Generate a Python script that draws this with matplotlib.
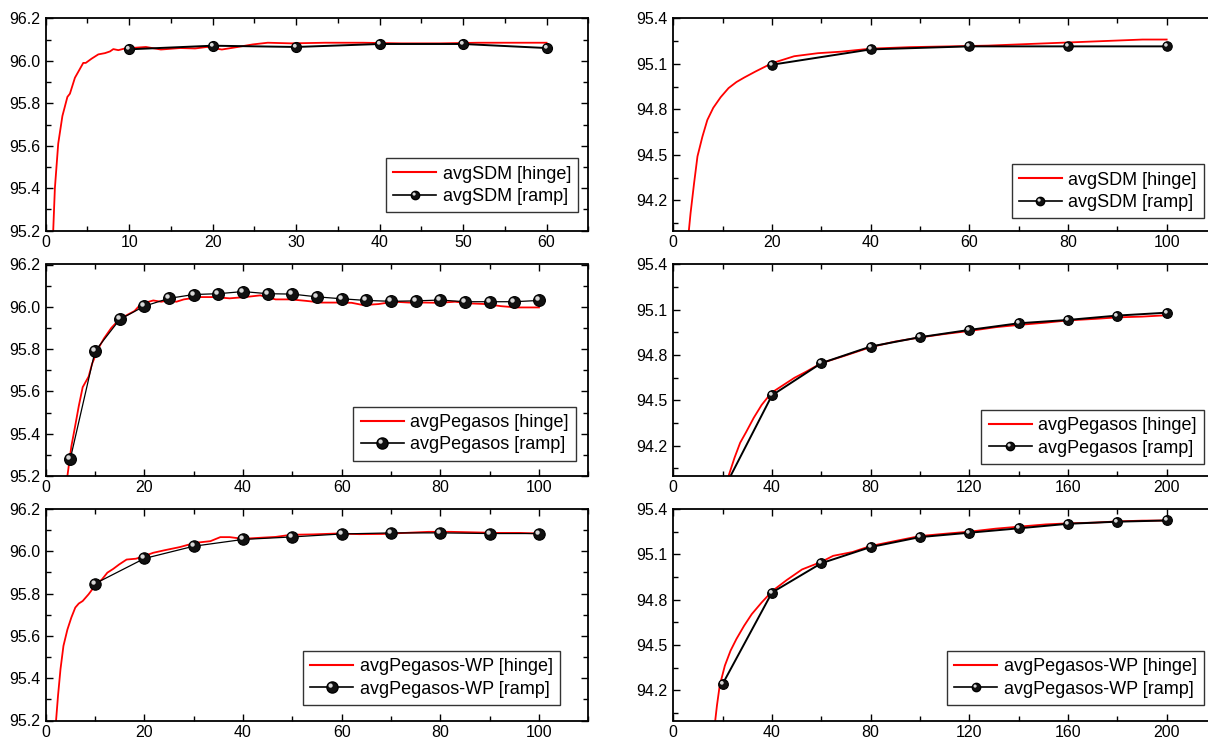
import matplotlib
matplotlib.use("Agg")
import matplotlib.pyplot as plt
from matplotlib.ticker import MultipleLocator, FormatStrFormatter
from matplotlib.markers import MarkerStyle
from matplotlib.transforms import Affine2D
from matplotlib.legend_handler import HandlerTuple

plt.rcParams['font.family'] = ['Liberation Sans', 'DejaVu Sans']

# ---------------- data ----------------
# Panel 1: avgSDM (left)
sdm1_hinge_x = [0.8, 0.9, 1.1, 1.5, 2.0, 2.6, 2.9, 3.5, 4.5, 4.8, 5.5, 6.3, 7.1, 7.7, 8.1, 8.7,
                9.7, 10.2, 12, 13.8, 16.1, 17.9, 19.3, 21.1, 23, 24.8, 26.6, 29.4, 33.5, 38,
                42.6, 47.2, 51.8, 56.3, 60]
sdm1_hinge_y = [95.0, 95.2, 95.4, 95.61, 95.74, 95.83, 95.845, 95.92, 95.99, 95.99, 96.01, 96.03,
                96.036, 96.044, 96.055, 96.05, 96.06, 96.06, 96.065, 96.053, 96.06, 96.058, 96.065,
                96.053, 96.065, 96.077, 96.085, 96.082, 96.085, 96.085, 96.082, 96.082, 96.085,
                96.085, 96.085]
sdm1_ramp_x = [10, 20, 30, 40, 50, 60]
sdm1_ramp_y = [96.054, 96.071, 96.065, 96.079, 96.079, 96.06]

# Panel 2: avgSDM (right)
sdm2_hinge_x = [3.0, 3.5, 4.2, 4.9, 5.9, 6.9, 8.1, 9.6, 11.2, 12.8, 14.4, 16.7, 20, 24.5, 29.3,
                34, 40, 48, 56, 63.8, 71.6, 79.5, 87.3, 95.1, 100]
sdm2_hinge_y = [93.95, 94.116, 94.31, 94.49, 94.62, 94.73, 94.81, 94.88, 94.94, 94.98, 95.01,
                95.05, 95.104, 95.15, 95.17, 95.18, 95.2, 95.21, 95.215, 95.22, 95.23, 95.24,
                95.25, 95.26, 95.26]
sdm2_ramp_x = [20, 40, 60, 80, 100]
sdm2_ramp_y = [95.094, 95.195, 95.215, 95.215, 95.215]

# Panel 3: avgPegasos (left)
peg1_hinge_x = [4.2, 4.4, 5.2, 6.0, 6.7, 7.5, 8.7, 9.4, 10.6, 11.8, 13.3, 14.9, 16.4, 18, 19.1,
                20.3, 21.8, 23.4, 24.9, 26.5, 28, 31.1, 34.2, 37.3, 40.4, 43.5, 46.6, 49.7,
                52.8, 55.9, 59, 62, 64.4, 67.5, 70.6, 73.7, 76.8, 79.9, 83, 86, 89.2, 92.3,
                95.4, 100]
peg1_hinge_y = [95.15, 95.2, 95.34, 95.44, 95.53, 95.62, 95.67, 95.73, 95.8, 95.85, 95.9, 95.94,
                95.96, 95.98, 96.008, 96.02, 96.03, 96.024, 96.03, 96.024, 96.035, 96.046,
                96.046, 96.04, 96.046, 96.054, 96.035, 96.035, 96.028, 96.02, 96.02, 96.019,
                96.008, 96.013, 96.024, 96.02, 96.02, 96.019, 96.024, 96.016, 96.013, 96.003,
                95.997, 95.997]
peg1_ramp_x = [5, 10, 15, 20, 25, 30, 35, 40, 45, 50, 55, 60, 65, 70, 75, 80, 85, 90, 95, 100]
peg1_ramp_y = [95.282, 95.79, 95.94, 96.003, 96.04, 96.058, 96.062, 96.072, 96.062, 96.06,
               96.047, 96.038, 96.03, 96.026, 96.028, 96.032, 96.024, 96.024, 96.024, 96.03]

# Panel 4: avgPegasos (right)
peg2_hinge_x = [21.5, 22.4, 24.8, 27.1, 29.5, 32.6, 35.8, 39.7, 44.4, 49.1, 53.8, 60, 69.5, 80,
                89.9, 100, 110, 120, 130.7, 140, 151, 160, 171, 180, 190, 200]
peg2_hinge_y = [93.98, 94.0, 94.12, 94.22, 94.29, 94.385, 94.47, 94.55, 94.6, 94.65, 94.69,
                94.747, 94.796, 94.853, 94.89, 94.917, 94.94, 94.96, 94.985, 95.0, 95.015,
                95.03, 95.04, 95.05, 95.055, 95.064]
peg2_ramp_x = [20, 40, 60, 80, 100, 120, 140, 160, 180, 200]
peg2_ramp_y = [93.898, 94.534, 94.747, 94.857, 94.919, 94.967, 95.011, 95.033, 95.062, 95.081]

# Panel 5: avgPegasos-WP (left)
wp1_hinge_x = [1.9, 2.1, 2.5, 3.0, 3.6, 4.4, 5.2, 6.0, 6.7, 7.5, 8.7, 10.2, 11.4, 12.5, 13.7,
               14.9, 16.4, 18.3, 19.9, 21.8, 24.1, 27.2, 30.3, 33.4, 35.4, 37.3, 40, 43.5, 46.6,
               49.7, 54.3, 59, 63.6, 68.3, 72.9, 77.6, 82.2, 86, 91.5, 96.1, 100]
wp1_hinge_y = [95.1, 95.2, 95.318, 95.443, 95.553, 95.63, 95.687, 95.734, 95.753, 95.765, 95.797,
               95.844, 95.867, 95.899, 95.917, 95.938, 95.961, 95.965, 95.977, 95.993, 96.005,
               96.02, 96.04, 96.048, 96.067, 96.067, 96.059, 96.064, 96.068, 96.078, 96.08,
               96.084, 96.081, 96.082, 96.087, 96.092, 96.092, 96.09, 96.087, 96.087, 96.084]
wp1_ramp_x = [10, 20, 30, 40, 50, 60, 70, 80, 90, 100]
wp1_ramp_y = [95.847, 95.966, 96.024, 96.056, 96.068, 96.082, 96.087, 96.087, 96.084, 96.084]

# Panel 6: avgPegasos-WP (right)
wp2_hinge_x = [16.5, 17, 17.7, 18.8, 20.9, 23.2, 25.6, 28.7, 31.8, 35.8, 40.2, 46, 52.2, 60,
               64.8, 72.6, 80, 89.9, 100, 110, 120, 130.7, 140, 151, 160, 171, 180, 190, 200]
wp2_hinge_y = [93.95, 94.0, 94.1, 94.23, 94.363, 94.462, 94.54, 94.627, 94.704, 94.781, 94.858,
               94.93, 95.0, 95.05, 95.09, 95.115, 95.155, 95.188, 95.221, 95.236, 95.25, 95.27,
               95.283, 95.298, 95.305, 95.31, 95.318, 95.323, 95.324]
wp2_ramp_x = [20, 40, 60, 80, 100, 120, 140, 160, 180, 200]
wp2_ramp_y = [94.242, 94.847, 95.041, 95.148, 95.214, 95.243, 95.272, 95.302, 95.316, 95.324]

labels = ["avgSDM", "avgSDM", "avgPegasos", "avgPegasos", "avgPegasos-WP", "avgPegasos-WP"]

# ---------------- layout ----------------
W, H = 1208, 740
fig = plt.figure(figsize=(W / 100, H / 100), dpi=100)

cols = [(45.7, 588.3), (673.3, 1216.0)]
rows = [(18.3, 230.7), (264.5, 476.0), (509.0, 720.5)]

panels = [
    dict(hx=sdm1_hinge_x, hy=sdm1_hinge_y, rx=sdm1_ramp_x, ry=sdm1_ramp_y, lab=labels[0],
         xlim=(0, 65), xmaj=10, xmin=5, ylim=(95.2, 96.2), ymaj=0.2, ymin=0.1,
         ms=7.2, blw=1.4, leg=(578.3, 212.3), lms=6),
    dict(hx=sdm2_hinge_x, hy=sdm2_hinge_y, rx=sdm2_ramp_x, ry=sdm2_ramp_y, lab=labels[1],
         xlim=(0, 110), xmaj=20, xmin=10, ylim=(94.0, 95.4), ymaj=0.3, ymin=0.15,
         ms=6.8, blw=1.4, leg=(1204, 218.3), lms=6),
    dict(hx=peg1_hinge_x, hy=peg1_hinge_y, rx=peg1_ramp_x, ry=peg1_ramp_y, lab=labels[2],
         xlim=(0, 110), xmaj=20, xmin=10, ylim=(95.2, 96.2), ymaj=0.2, ymin=0.1,
         ms=8.5, blw=0.9, leg=(576, 460.7), lms=8),
    dict(hx=peg2_hinge_x, hy=peg2_hinge_y, rx=peg2_ramp_x, ry=peg2_ramp_y, lab=labels[3],
         xlim=(0, 220), xmaj=40, xmin=20, ylim=(94.0, 95.4), ymaj=0.3, ymin=0.15,
         ms=7, blw=1.4, leg=(1204, 464), lms=6),
    dict(hx=wp1_hinge_x, hy=wp1_hinge_y, rx=wp1_ramp_x, ry=wp1_ramp_y, lab=labels[4],
         xlim=(0, 110), xmaj=20, xmin=10, ylim=(95.2, 96.2), ymaj=0.2, ymin=0.1,
         ms=8.2, blw=0.9, leg=(560, 705), lms=8),
    dict(hx=wp2_hinge_x, hy=wp2_hinge_y, rx=wp2_ramp_x, ry=wp2_ramp_y, lab=labels[5],
         xlim=(0, 220), xmaj=40, xmin=20, ylim=(94.0, 95.4), ymaj=0.3, ymin=0.15,
         ms=7, blw=1.4, leg=(1204, 705), lms=6),
]

hl_marker = MarkerStyle('o', transform=Affine2D().scale(0.38).translate(-0.17, 0.17))

for i, p in enumerate(panels):
    r, c = divmod(i, 2)
    x0, x1 = cols[c]
    y0, y1 = rows[r]
    ax = fig.add_axes([x0 / W, 1 - y1 / H, (x1 - x0) / W, (y1 - y0) / H])

    ax.plot(p['hx'], p['hy'], color='#ff0000', lw=1.3, zorder=2)
    ax.plot(p['rx'], p['ry'], color='black', lw=p['blw'], marker='o',
            ms=p['ms'], mfc='#111111', mec='black', mew=0.8, zorder=3)
    ax.plot(p['rx'], p['ry'], ls='none', marker=hl_marker, ms=p['ms'],
            mfc='#d8d8d8', mec='none', zorder=4)

    ax.set_xlim(*p['xlim'])
    ax.set_ylim(*p['ylim'])
    ax.xaxis.set_major_locator(MultipleLocator(p['xmaj']))
    ax.xaxis.set_minor_locator(MultipleLocator(p['xmin']))
    ax.yaxis.set_major_locator(MultipleLocator(p['ymaj']))
    ax.yaxis.set_minor_locator(MultipleLocator(p['ymin']))
    ax.yaxis.set_major_formatter(FormatStrFormatter('%.1f'))
    ax.tick_params(which='both', direction='in', top=True, right=True, width=1.0,
                   labelsize=11.5, colors='black')
    ax.tick_params(axis='x', pad=3)
    ax.tick_params(axis='y', pad=4)
    ax.tick_params(which='major', length=5)
    ax.tick_params(which='minor', length=3.5)
    for s in ax.spines.values():
        s.set_linewidth(1.3)

    # legend proxies (smaller markers like the reference)
    lb, = ax.plot([], [], color='black', lw=1.2, marker='o', ms=p['lms'], mfc='#111111', mec='black')
    lh, = ax.plot([], [], ls='none', marker=hl_marker, ms=p['lms'], mfc='#d8d8d8', mec='none')
    lr, = ax.plot([], [], color='#ff0000', lw=1.5)
    lx, ly = p['leg']
    leg = ax.legend([lr, (lb, lh)], [p['lab'] + " [hinge]", p['lab'] + " [ramp]"],
                    handler_map={tuple: HandlerTuple(ndivide=1, pad=0)},
                    loc='lower right', bbox_to_anchor=(lx / W, 1 - ly / H),
                    bbox_transform=fig.transFigure, borderaxespad=0,
                    fontsize=13, handlelength=2.4, handletextpad=0.35,
                    borderpad=0.4, labelspacing=0.3, fancybox=False,
                    framealpha=1, edgecolor='#333333')
    leg.get_frame().set_linewidth(1.0)

fig.savefig('out.png', dpi=100)
